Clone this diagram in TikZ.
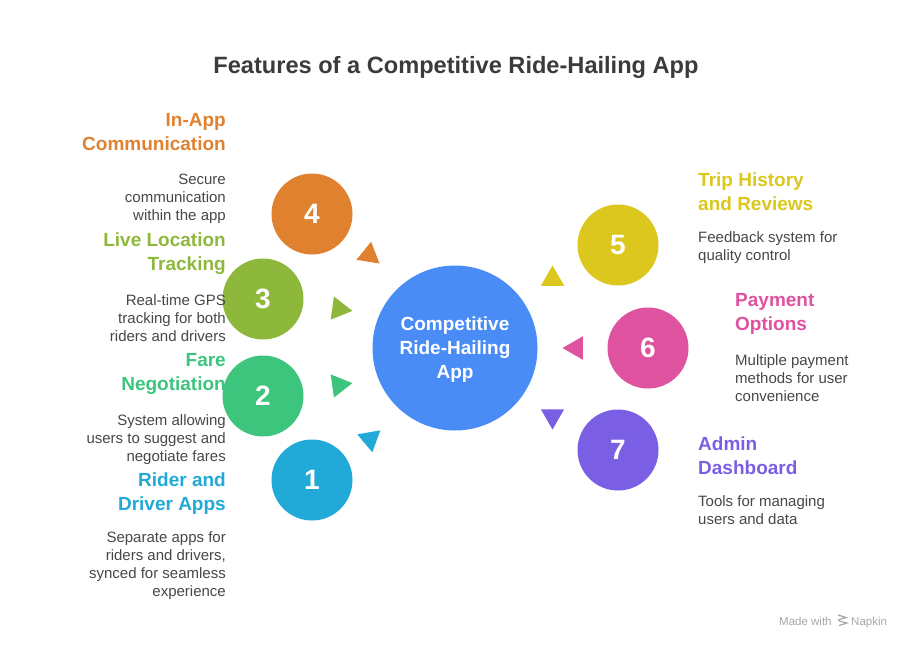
\documentclass[tikz,border=0pt]{standalone}
\usepackage{fontspec}
\setmainfont{Liberation Sans}
\usetikzlibrary{shapes.geometric}

\definecolor{hub}{HTML}{4A8CF6}
\definecolor{orangec}{HTML}{E0812F}
\definecolor{olivec}{HTML}{8EB83B}
\definecolor{greenc}{HTML}{3DC47D}
\definecolor{cyanc}{HTML}{21A9D7}
\definecolor{yellowc}{HTML}{DBC71D}
\definecolor{pinkc}{HTML}{DF529F}
\definecolor{purplec}{HTML}{7A5FE5}
\definecolor{bodytext}{HTML}{474747}
\definecolor{titletext}{HTML}{3B3B3B}

\begin{document}
\begin{tikzpicture}[x=1pt, y=-1pt,
  num/.style={circle, minimum size=81pt, inner sep=0pt, text=white,
    font=\fontsize{28}{28}\selectfont\bfseries},
  tri/.style={regular polygon, regular polygon sides=3, minimum size=27pt, inner sep=0pt},
  head/.style={inner sep=0pt, font=\fontsize{19}{24}\selectfont\bfseries},
  desc/.style={inner sep=0pt, text=bodytext, font=\fontsize{15}{18}\selectfont}]

\useasboundingbox (0,0) rectangle (912,649);

\node (title) [anchor=base, text=titletext, font=\fontsize{23.6}{24}\selectfont\bfseries]
  at (456,73.5) {Features of a Competitive Ride-Hailing App};

% hub
\node (hub) [circle, fill=hub, minimum size=165pt, inner sep=0pt] at (455,348) {};
\node (hubtext) [align=center, text=white, inner sep=0pt,
  font=\fontsize{19}{24}\selectfont\bfseries] at (455,350)
  {Competitive\\Ride-Hailing\\App};

% numbered circles
\node (one) [num, fill=cyanc] at (312,480) {1};
\node (two) [num, fill=greenc] at (263,396) {2};
\node (three) [num, fill=olivec] at (263,299) {3};
\node (four) [num, fill=orangec] at (312,214) {4};
\node (five) [num, fill=yellowc] at (618,245) {5};
\node (six) [num, fill=pinkc] at (648,348) {6};
\node (seven) [num, fill=purplec] at (618,450) {7};

% triangles
\node (triOne) [tri, fill=cyanc, rotate=70] at (370,439) {};
\node (triTwo) [tri, fill=greenc, rotate=38] at (339,385) {};
\node (triThree) [tri, fill=olivec, rotate=22] at (339,309) {};
\node (triFour) [tri, fill=orangec, rotate=-9] at (369,255) {};
\node (triFive) [tri, fill=yellowc] at (552.5,279) {};
\node (triSix) [tri, fill=pinkc, rotate=90] at (576,348) {};
\node (triSeven) [tri, fill=purplec, rotate=180] at (552.5,416) {};

% left labels
\node (headFour) [head, text=orangec, anchor=north east, align=right] at (226,113)
  {In-App\\Communication};
\node (descFour) [desc, anchor=north east, align=right] at (226,174)
  {Secure\\communication\\within the app};
\node (headThree) [head, text=olivec, anchor=north east, align=right] at (226,233)
  {Live Location\\Tracking};
\node (descThree) [desc, anchor=north east, align=right] at (226,294)
  {Real-time GPS\\tracking for both\\riders and drivers};
\node (headTwo) [head, text=greenc, anchor=north east, align=right] at (226,353)
  {Fare\\Negotiation};
\node (descTwo) [desc, anchor=north east, align=right] at (226,414)
  {System allowing\\users to suggest and\\negotiate fares};
\node (headOne) [head, text=cyanc, anchor=north east, align=right] at (226,473)
  {Rider and\\Driver Apps};
\node (descOne) [desc, anchor=north east, align=right] at (226,531)
  {Separate apps for\\riders and drivers,\\synced for seamless\\experience};

% right labels
\node (headFive) [head, text=yellowc, anchor=north west, align=left] at (698,173)
  {Trip History\\and Reviews};
\node (descFive) [desc, anchor=north west, align=left] at (698,231)
  {Feedback system for\\quality control};
\node (headSix) [head, text=pinkc, anchor=north west, align=left] at (735,293)
  {Payment\\Options};
\node (descSix) [desc, anchor=north west, align=left] at (735,354)
  {Multiple payment\\methods for user\\convenience};
\node (headSeven) [head, text=purplec, anchor=north west, align=left] at (698,437)
  {Admin\\Dashboard};
\node (descSeven) [desc, anchor=north west, align=left] at (698,495)
  {Tools for managing\\users and data};

% footer
\node (made) [anchor=base west, inner sep=0pt, text=black!35, font=\fontsize{11.5}{12}\selectfont]
  at (779,625) {Made with};
\draw[black!35, line width=1.2pt] (838,615) -- (846,617.5) -- (838,620)
  (839,621) -- (847,623) -- (839,625.5);
\node (napkin) [anchor=base west, inner sep=0pt, text=black!35, font=\fontsize{11.5}{12}\selectfont]
  at (851,625) {Napkin};

\end{tikzpicture}
\end{document}
